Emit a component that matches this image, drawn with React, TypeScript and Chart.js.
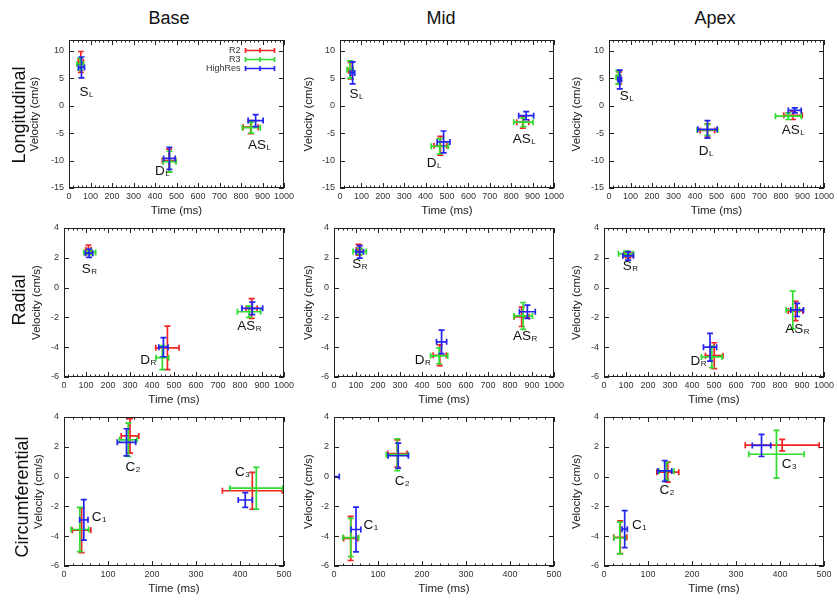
import React, { useEffect, useRef } from 'react';
import { Chart, registerables } from 'chart.js';

Chart.register(...registerables);

// ---------- categories / ticks ----------
const COLUMNS = ['Base', 'Mid', 'Apex'];
const ROWS = ['Longitudinal', 'Radial', 'Circumferential'];
const SERIES = ['R2', 'R3', 'HighRes'];
const SERIES_COLORS = ['#f02424', '#2fdc2f', '#2424ee'];

const X_TICKS_1000 = [0, 100, 200, 300, 400, 500, 600, 700, 800, 900, 1000];
const X_TICKS_500 = [0, 100, 200, 300, 400, 500];
const Y_TICKS_LONG = [-15, -10, -5, 0, 5, 10];
const Y_TICKS_SMALL = [-6, -4, -2, 0, 2, 4];

// ---------- data: [time (ms), time err, velocity (cm/s), velocity err] ----------
const BASE_LONG_R2 = [[55, 12, 8.0, 1.9], [465, 31, -10.0, 2.1], [845, 35, -3.9, 1.2]];
const BASE_LONG_R3 = [[52, 15, 7.6, 1.1], [468, 30, -10.2, 1.9], [848, 42, -4.0, 1.0]];
const BASE_LONG_HR = [[58, 14, 7.0, 1.9], [467, 27, -9.6, 2.0], [868, 35, -2.7, 1.1]];
const BASE_LONG_LABELS = [['S', 'L', 80, 2.7], ['D', 'L', 433, -11.8], ['AS', 'L', 885, -7.0]];

const MID_LONG_R2 = [[50, 10, 6.4, 1.5], [469, 30, -7.3, 1.7], [854, 28, -3.0, 1.1]];
const MID_LONG_R3 = [[47, 14, 6.6, 1.6], [466, 40, -7.4, 1.4], [857, 45, -3.0, 0.8]];
const MID_LONG_HR = [[59, 10, 6.0, 2.0], [484, 30, -6.6, 2.0], [870, 35, -1.8, 0.75]];
const MID_LONG_LABELS = [['S', 'L', 76, 2.4], ['D', 'L', 438, -10.2], ['AS', 'L', 860, -5.8]];

const APEX_LONG_R2 = [[47, 8, 5.1, 1.1], [458, 34, -4.5, 1.2], [856, 43, -1.75, 0.75]];
const APEX_LONG_R3 = [[43, 10, 5.2, 1.2], [458, 48, -4.4, 1.0], [834, 60, -1.9, 0.6]];
const APEX_LONG_HR = [[50, 8, 4.8, 1.7], [458, 45, -4.3, 1.6], [864, 30, -0.85, 0.45]];
const APEX_LONG_LABELS = [['S', 'L', 81, 1.9], ['D', 'L', 450, -8.1], ['AS', 'L', 856, -4.2]];

const BASE_RAD_R2 = [[111, 12, 2.54, 0.32], [470, 53, -4.04, 1.46], [853, 25, -1.4, 0.66]];
const BASE_RAD_R3 = [[117, 27, 2.36, 0.15], [447, 29, -4.7, 0.8], [841, 53, -1.62, 0.38]];
const BASE_RAD_HR = [[114, 17, 2.31, 0.28], [452, 21, -4.0, 0.64], [856, 47, -1.39, 0.42]];
const BASE_RAD_LABELS = [['S', 'R', 114, 1.33], ['D', 'R', 382, -4.76], ['AS', 'R', 841, -2.52]];

const MID_RAD_R2 = [[112, 10, 2.54, 0.36], [481, 30, -4.54, 0.7], [853, 34, -1.96, 0.65]];
const MID_RAD_R3 = [[117, 30, 2.43, 0.2], [478, 39, -4.58, 0.53], [860, 42, -1.9, 0.9]];
const MID_RAD_HR = [[117, 17, 2.4, 0.42], [489, 23, -3.64, 0.79], [879, 36, -1.62, 0.44]];
const MID_RAD_LABELS = [['S', 'R', 117, 1.64], ['D', 'R', 402, -4.76], ['AS', 'R', 868, -3.19]];

const APEX_RAD_R2 = [[110, 19, 2.2, 0.2], [501, 40, -4.57, 0.87], [871, 33, -1.57, 0.64]];
const APEX_RAD_R3 = [[100, 34, 2.27, 0.18], [490, 47, -4.65, 0.73], [858, 30, -1.5, 1.27]];
const APEX_RAD_HR = [[110, 24, 2.13, 0.28], [482, 30, -4.0, 0.93], [878, 29, -1.5, 0.44]];
const APEX_RAD_LABELS = [['S', 'R', 119, 1.53], ['D', 'R', 429, -4.83], ['AS', 'R', 878, -2.74]];

const BASE_CIRC_R2 = [[40, 21, -3.6, 1.5], [150, 20, 2.73, 1.16], [428, 68, -0.95, 1.24]];
const BASE_CIRC_R3 = [[36, 20, -3.55, 1.48], [146, 20, 2.47, 1.12], [437, 60, -0.78, 1.4]];
const BASE_CIRC_HR = [[45, 9.5, -2.9, 1.36], [142, 21, 2.3, 0.91], [412, 16, -1.57, 0.5]];
const BASE_CIRC_LABELS = [['C', '1', 79, -2.63], ['C', '2', 156, 0.7], ['C', '3', 405, 0.4]];

const MID_CIRC_R2 = [[38, 16, -4.15, 1.48], [144, 22, 1.55, 0.92]];
const MID_CIRC_R3 = [[38, 18, -4.09, 1.28], [144, 25, 1.47, 1.07]];
const MID_CIRC_HR = [[50, 11, -3.55, 1.5], [146, 23, 1.4, 0.84], [0, 12, 0, 0]];
const MID_CIRC_LABELS = [['C', '1', 83, -3.19], ['C', '2', 154, -0.22]];

const APEX_CIRC_R2 = [[37, 15, -4.07, 1.1], [145, 25, 0.3, 0.67], [405, 84, 2.11, 0.39]];
const APEX_CIRC_R3 = [[36, 13, -4.12, 1.07], [142, 17, 0.36, 0.6], [392, 63, 1.5, 1.6]];
const APEX_CIRC_HR = [[47, 6, -3.53, 1.24], [138, 16, 0.38, 0.7], [358, 21, 2.09, 0.74]];
const APEX_CIRC_LABELS = [['C', '1', 80, -3.15], ['C', '2', 142, -0.83], ['C', '3', 420, 0.9]];

// ---------- layout (page pixels) ----------
const PLOT_TOPS = [40, 228, 417];
const PLOT_BOTTOMS = [188, 377, 566];
const PLOT_LEFTS = [[69, 340, 609], [64, 334, 604], [64, 334, 604]];
const PLOT_RIGHTS = [284, 554, 824];
const VELOCITY_X = [[35, 309, 577], [37, 309, 577], [39, 309, 577]];
const PAD_L = 45;
const PAD_T = 6;
const PAD_R = 10;
const PAD_B = 32;

const FONT = "'Liberation Sans', Arial, Helvetica, sans-serif";

const ROW_AXES = [
  { xMax: 1000, xTicks: X_TICKS_1000, yMin: -15, yMax: 12, yTicks: Y_TICKS_LONG },
  { xMax: 1000, xTicks: X_TICKS_1000, yMin: -6, yMax: 4, yTicks: Y_TICKS_SMALL },
  { xMax: 500, xTicks: X_TICKS_500, yMin: -6, yMax: 4, yTicks: Y_TICKS_SMALL },
];

const PANELS = [
  { row: 0, col: 0, series: [BASE_LONG_R2, BASE_LONG_R3, BASE_LONG_HR], labels: BASE_LONG_LABELS, legend: true },
  { row: 0, col: 1, series: [MID_LONG_R2, MID_LONG_R3, MID_LONG_HR], labels: MID_LONG_LABELS },
  { row: 0, col: 2, series: [APEX_LONG_R2, APEX_LONG_R3, APEX_LONG_HR], labels: APEX_LONG_LABELS },
  { row: 1, col: 0, series: [BASE_RAD_R2, BASE_RAD_R3, BASE_RAD_HR], labels: BASE_RAD_LABELS },
  { row: 1, col: 1, series: [MID_RAD_R2, MID_RAD_R3, MID_RAD_HR], labels: MID_RAD_LABELS },
  { row: 1, col: 2, series: [APEX_RAD_R2, APEX_RAD_R3, APEX_RAD_HR], labels: APEX_RAD_LABELS },
  { row: 2, col: 0, series: [BASE_CIRC_R2, BASE_CIRC_R3, BASE_CIRC_HR], labels: BASE_CIRC_LABELS },
  { row: 2, col: 1, series: [MID_CIRC_R2, MID_CIRC_R3, MID_CIRC_HR], labels: MID_CIRC_LABELS },
  { row: 2, col: 2, series: [APEX_CIRC_R2, APEX_CIRC_R3, APEX_CIRC_HR], labels: APEX_CIRC_LABELS },
];

const MINOR_X_STEP = 20;
const CAP = 3;
const BAR_WIDTH = 1.7;

function Panel({ spec }: { spec: any }) {
  const ref = useRef<HTMLCanvasElement>(null);
  const left = PLOT_LEFTS[spec.row][spec.col];
  const right = PLOT_RIGHTS[spec.col];
  const top = PLOT_TOPS[spec.row];
  const bottom = PLOT_BOTTOMS[spec.row];
  const cLeft = left - PAD_L;
  const cTop = top - PAD_T;
  const w = right - left + PAD_L + PAD_R;
  const h = bottom - top + PAD_T + PAD_B;
  const axes = ROW_AXES[spec.row];
  const velLine = 11.5 * 1.2;
  const velPad = Math.max(0, VELOCITY_X[spec.row][spec.col] - cLeft - velLine / 2);

  useEffect(() => {
    const canvas = ref.current!;
    const gnuplotPlugin = {
      id: 'gnuplotFrame',
      afterDraw(chart: any) {
        const ctx = chart.ctx;
        const area = chart.chartArea;
        const xs = chart.scales.x;
        const ys = chart.scales.y;
        ctx.save();
        // error bars, clipped to plot area
        ctx.save();
        ctx.beginPath();
        ctx.rect(area.left, area.top, area.right - area.left, area.bottom - area.top);
        ctx.clip();
        ctx.lineWidth = BAR_WIDTH;
        ctx.lineCap = 'butt';
        chart.data.datasets.forEach((ds: any, di: number) => {
          const pts = spec.series[di];
          ctx.strokeStyle = SERIES_COLORS[di];
          pts.forEach((p: number[]) => {
            const [xv, xe, yv, ye] = p;
            const xc = xs.getPixelForValue(xv);
            const yc = ys.getPixelForValue(yv);
            const x0 = xs.getPixelForValue(xv - xe);
            const x1 = xs.getPixelForValue(xv + xe);
            const y0 = ys.getPixelForValue(yv + ye);
            const y1 = ys.getPixelForValue(yv - ye);
            ctx.beginPath();
            ctx.moveTo(x0, yc); ctx.lineTo(x1, yc);
            ctx.moveTo(x0, yc - CAP); ctx.lineTo(x0, yc + CAP);
            ctx.moveTo(x1, yc - CAP); ctx.lineTo(x1, yc + CAP);
            if (ye > 0) {
              ctx.moveTo(xc, y0); ctx.lineTo(xc, y1);
              ctx.moveTo(xc - CAP, y0); ctx.lineTo(xc + CAP, y0);
              ctx.moveTo(xc - CAP, y1); ctx.lineTo(xc + CAP, y1);
            }
            ctx.stroke();
          });
        });
        ctx.restore();

        // point labels with subscripts
        ctx.fillStyle = '#111';
        ctx.textBaseline = 'alphabetic';
        spec.labels.forEach((lab: any[]) => {
          const [main, sub, xv, yv] = lab;
          const px = xs.getPixelForValue(xv);
          const py = ys.getPixelForValue(yv);
          ctx.font = `13.5px ${FONT}`;
          const wm = ctx.measureText(main).width;
          ctx.font = `8px ${FONT}`;
          const wsub = ctx.measureText(sub).width;
          const sx = px - (wm + wsub) / 2;
          const base = py + 5;
          ctx.font = `13.5px ${FONT}`;
          ctx.textAlign = 'left';
          ctx.fillText(main, sx, base);
          ctx.font = `8px ${FONT}`;
          ctx.fillText(sub, sx + wm + 0.5, base + 1);
        });

        // frame
        ctx.strokeStyle = '#222';
        ctx.lineWidth = 1;
        ctx.strokeRect(Math.round(area.left) + 0.5, Math.round(area.top) + 0.5,
          Math.round(area.right - area.left) - 1, Math.round(area.bottom - area.top) - 1);

        // inner ticks: x major/minor on top and bottom, y major on left and right
        ctx.beginPath();
        const xMax = xs.max;
        for (let v = 0; v <= xMax + 0.001; v += MINOR_X_STEP) {
          const isMajor = axes.xTicks.includes(v);
          const len = isMajor ? 5 : 2.5;
          const px = Math.round(xs.getPixelForValue(v)) + 0.5;
          ctx.moveTo(px, area.bottom); ctx.lineTo(px, area.bottom - len);
          ctx.moveTo(px, area.top); ctx.lineTo(px, area.top + len);
        }
        axes.yTicks.forEach((v: number) => {
          const py = Math.round(ys.getPixelForValue(v)) + 0.5;
          ctx.moveTo(area.left, py); ctx.lineTo(area.left + 5, py);
          ctx.moveTo(area.right, py); ctx.lineTo(area.right - 5, py);
        });
        ctx.stroke();

        // legend
        if (spec.legend) {
          const rows = [10.5, 19.5, 28.5];
          SERIES.forEach((name, i) => {
            const ly = area.top + rows[i];
            ctx.font = `9px ${FONT}`;
            ctx.fillStyle = '#333';
            ctx.textAlign = 'right';
            ctx.textBaseline = 'middle';
            ctx.fillText(name, area.right - 43.5, ly);
            const lx0 = area.right - 38.5;
            const lx1 = area.right - 9.5;
            const lm = (lx0 + lx1) / 2;
            ctx.strokeStyle = SERIES_COLORS[i];
            ctx.lineWidth = BAR_WIDTH;
            ctx.beginPath();
            ctx.moveTo(lx0, ly); ctx.lineTo(lx1, ly);
            ctx.moveTo(lx0, ly - 2.5); ctx.lineTo(lx0, ly + 2.5);
            ctx.moveTo(lx1, ly - 2.5); ctx.lineTo(lx1, ly + 2.5);
            ctx.moveTo(lm, ly - 2.5); ctx.lineTo(lm, ly + 2.5);
            ctx.stroke();
          });
        }
        ctx.restore();
      },
    };

    const chart = new Chart(canvas, {
      type: 'scatter',
      data: {
        datasets: spec.series.map((pts: number[][], i: number) => ({
          label: SERIES[i],
          data: pts.map((p) => ({ x: p[0], y: p[2] })),
          borderColor: SERIES_COLORS[i],
          backgroundColor: SERIES_COLORS[i],
          pointRadius: 0,
          pointHoverRadius: 0,
          showLine: false,
        })),
      },
      options: {
        responsive: false,
        maintainAspectRatio: false,
        animation: false,
        events: [],
        layout: { padding: { left: 0, top: PAD_T, right: PAD_R, bottom: 0 } },
        plugins: {
          legend: { display: false },
          tooltip: { enabled: false },
          title: { display: false },
        },
        scales: {
          x: {
            type: 'linear',
            position: 'bottom',
            min: 0,
            max: axes.xMax,
            afterBuildTicks: (s: any) => { s.ticks = axes.xTicks.map((v: number) => ({ value: v })); },
            afterFit: (s: any) => { s.height = PAD_B; s.paddingLeft = 0; s.paddingRight = 0; },
            ticks: {
              font: { family: FONT, size: 9 },
              color: '#333',
              padding: 3,
              autoSkip: false,
              maxRotation: 0,
              minRotation: 0,
              callback: (v: any) => String(v),
            },
            grid: { display: false, drawTicks: false },
            border: { display: false },
            title: {
              display: true,
              text: 'Time (ms)',
              font: { family: FONT, size: 11.5 },
              color: '#222',
              padding: { top: 0, bottom: 2 },
            },
          },
          y: {
            type: 'linear',
            position: 'left',
            min: axes.yMin,
            max: axes.yMax,
            afterBuildTicks: (s: any) => { s.ticks = axes.yTicks.map((v: number) => ({ value: v })); },
            afterFit: (s: any) => { s.width = PAD_L; s.paddingTop = 0; s.paddingBottom = 0; },
            ticks: {
              font: { family: FONT, size: 9 },
              color: '#333',
              padding: 5,
              autoSkip: false,
              callback: (v: any) => String(v),
            },
            grid: { display: false, drawTicks: false },
            border: { display: false },
            title: {
              display: true,
              text: 'Velocity (cm/s)',
              font: { family: FONT, size: 11.5 },
              color: '#222',
              padding: { top: velPad, bottom: 0 },
            },
          },
        },
      } as any,
      plugins: [gnuplotPlugin],
    });
    return () => chart.destroy();
  }, []);

  return (
    <canvas
      ref={ref}
      width={w}
      height={h}
      style={{ position: 'absolute', left: cLeft, top: cTop, width: w, height: h }}
    />
  );
}

const COLUMN_TITLE_X = [169, 441, 715];
const ROW_LABEL_POS = [[19, 115], [19, 300], [22, 497]];

export default function App() {
  return (
    <div
      style={{
        position: 'absolute',
        left: 0,
        top: 0,
        width: 837,
        height: 600,
        background: '#fff',
        fontFamily: FONT,
        overflow: 'hidden',
      }}
    >
      {PANELS.map((p, i) => (
        <Panel key={i} spec={p} />
      ))}
      {COLUMNS.map((c, i) => (
        <div
          key={c}
          style={{
            position: 'absolute',
            left: COLUMN_TITLE_X[i],
            top: 18,
            transform: 'translate(-50%, -50%)',
            fontSize: 18,
            color: '#111',
            whiteSpace: 'nowrap',
            lineHeight: 1,
          }}
        >
          {c}
        </div>
      ))}
      {ROWS.map((r, i) => (
        <div
          key={r}
          style={{
            position: 'absolute',
            left: ROW_LABEL_POS[i][0],
            top: ROW_LABEL_POS[i][1],
            transform: 'translate(-50%, -50%) rotate(-90deg)',
            fontSize: 18,
            color: '#111',
            whiteSpace: 'nowrap',
            lineHeight: 1,
          }}
        >
          {r}
        </div>
      ))}
    </div>
  );
}
